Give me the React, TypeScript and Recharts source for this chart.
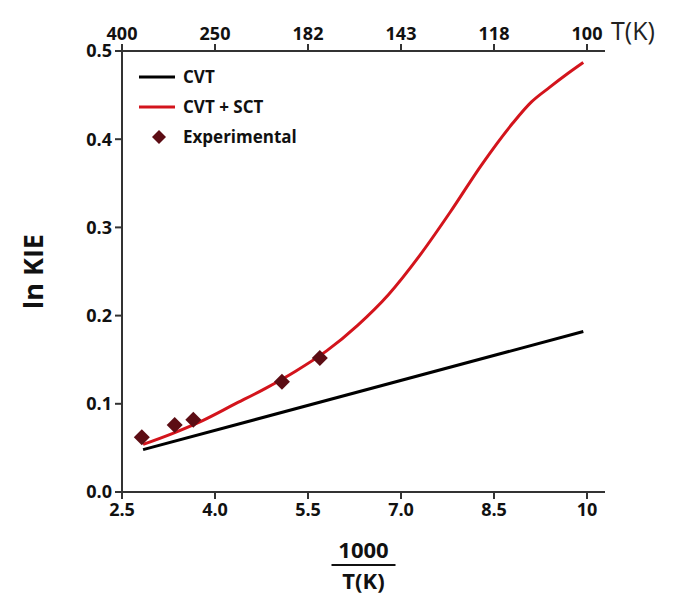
import {
  ComposedChart,
  Line,
  Scatter,
  XAxis,
  YAxis,
} from 'recharts'

// 1000/T (K^-1) against ln KIE
const cvtX = [2.84, 9.94]
const cvtY = [0.048, 0.182]

const sctX = [2.84, 3.3, 3.8, 4.3, 4.8, 5.3, 5.8, 6.3, 6.8, 7.3, 7.8, 8.3, 8.8, 9.1, 9.4, 9.7, 9.94]
const sctY = [0.054, 0.066, 0.081, 0.099, 0.117, 0.137, 0.16, 0.189, 0.224, 0.268, 0.318, 0.371, 0.418, 0.442, 0.459, 0.475, 0.487]

const expX = [2.82, 3.35, 3.65, 5.08, 5.69]
const expY = [0.062, 0.076, 0.082, 0.125, 0.152]

const xTicks = [2.5, 4.0, 5.5, 7.0, 8.5, 10]
const topTickLabels = ['400', '250', '182', '143', '118', '100']
const yTicks = [0, 0.1, 0.2, 0.3, 0.4, 0.5]

const cvtData = cvtX.map((x, i) => ({ x, y: cvtY[i] }))
const sctData = sctX.map((x, i) => ({ x, y: sctY[i] }))
const expData = expX.map((x, i) => ({ x, y: expY[i] }))

const FONT = '"Open Sans", "DejaVu Sans", sans-serif'
const AXIS = '#333'
const RED = '#d3141c'
const MAROON = '#5c0d14'

const tickStyle = { fontSize: 18, fontWeight: 700, fill: '#111', fontFamily: FONT }

const Diamond = (props: any) => {
  const { cx, cy } = props
  const r = 8
  return (
    <polygon
      points={`${cx},${cy - r} ${cx + r},${cy} ${cx},${cy + r} ${cx - r},${cy}`}
      fill={MAROON}
    />
  )
}

const legendItems = [
  { name: 'CVT', kind: 'line', color: '#000' },
  { name: 'CVT + SCT', kind: 'line', color: RED },
  { name: 'Experimental', kind: 'diamond', color: MAROON },
]

const LegendBox = () => (
  <div
    style={{
      position: 'absolute',
      left: 138,
      top: 62,
      fontFamily: FONT,
      fontWeight: 700,
      fontSize: 17,
      color: '#111',
      lineHeight: '30px',
    }}
  >
    {legendItems.map((it) => (
      <div key={it.name} style={{ display: 'flex', alignItems: 'center' }}>
        <svg width={45} height={16}>
          {it.kind === 'line' ? (
            <line x1={1} y1={8} x2={37} y2={8} stroke={it.color} strokeWidth={3} />
          ) : (
            <polygon points="21,1 28,8 21,15 14,8" fill={it.color} />
          )}
        </svg>
        {it.name}
      </div>
    ))}
  </div>
)

const YTitle = ({ viewBox }: any) => {
  const cy = viewBox.y + viewBox.height / 2
  return (
    <text
      x={32}
      y={cy}
      transform={`rotate(-90, 32, ${cy})`}
      textAnchor="middle"
      dominantBaseline="central"
      style={{ fontSize: 27, fontWeight: 700, fontFamily: FONT, fill: '#111' }}
    >
      ln KIE
    </text>
  )
}

// stacked fraction 1000 / T(K) under the bottom axis
const XTitle = ({ viewBox }: any) => {
  const cx = viewBox.x + viewBox.width / 2
  return (
    <g style={{ fontSize: 22, fontWeight: 700, fontFamily: FONT, fill: '#111' }}>
      <text x={cx} y={viewBox.y + 66} textAnchor="middle">1000</text>
      <line x1={cx - 32} x2={cx + 32} y1={viewBox.y + 73} y2={viewBox.y + 73} stroke="#111" strokeWidth={2} />
      <text x={cx} y={viewBox.y + 97} textAnchor="middle">T(K)</text>
    </g>
  )
}

const TopTitle = ({ viewBox }: any) => (
  <text
    x={viewBox.x + viewBox.width + 6}
    y={40}
    style={{ fontSize: 25, fontFamily: FONT, fill: '#222' }}
  >
    T(K)
  </text>
)

export default function App() {
  return (
    <div style={{ position: 'absolute', left: 0, top: 0, width: 677, height: 600, background: '#fff' }}>
      <ComposedChart
        width={677}
        height={600}
        margin={{ top: 0, right: 72, bottom: 0, left: 0 }}
        style={{ fontFamily: FONT }}
      >
        <XAxis
          dataKey="x"
          type="number"
          domain={[2.5, 10.29]}
          ticks={xTicks}
          tickFormatter={(v: number) => (v === 10 ? '10' : v.toFixed(1))}
          height={108}
          tick={tickStyle}
          tickSize={7}
          tickMargin={4}
          axisLine={{ stroke: AXIS, strokeWidth: 2 }}
          tickLine={{ stroke: AXIS, strokeWidth: 2 }}
          allowDataOverflow
          label={<XTitle />}
        />
        <XAxis
          xAxisId="top"
          orientation="top"
          dataKey="x"
          type="number"
          domain={[2.5, 10.29]}
          ticks={xTicks}
          tickFormatter={(_v: number, i: number) => topTickLabels[i]}
          height={51}
          tick={tickStyle}
          tickSize={7}
          tickMargin={4}
          axisLine={{ stroke: AXIS, strokeWidth: 2 }}
          tickLine={{ stroke: AXIS, strokeWidth: 2 }}
          allowDataOverflow
          label={<TopTitle />}
        />
        <YAxis
          type="number"
          domain={[0, 0.5]}
          ticks={yTicks}
          tickFormatter={(v: number) => v.toFixed(1)}
          width={122}
          tick={tickStyle}
          tickSize={7}
          tickMargin={3}
          axisLine={{ stroke: AXIS, strokeWidth: 2 }}
          tickLine={{ stroke: AXIS, strokeWidth: 2 }}
          label={<YTitle />}
        />
        <YAxis
          yAxisId="right"
          orientation="right"
          type="number"
          domain={[0, 0.5]}
          width={0}
          tick={false}
          tickLine={false}
          axisLine={{ stroke: AXIS, strokeWidth: 2 }}
        />
        <Line
          data={cvtData}
          dataKey="y"
          name="CVT"
          type="linear"
          stroke="#000"
          strokeWidth={3}
          dot={false}
          isAnimationActive={false}
        />
        <Line
          data={sctData}
          dataKey="y"
          name="CVT + SCT"
          type="monotone"
          stroke={RED}
          strokeWidth={3}
          dot={false}
          isAnimationActive={false}
        />
        <Scatter
          data={expData}
          dataKey="y"
          name="Experimental"
          fill={MAROON}
          shape={<Diamond />}
          isAnimationActive={false}
        />
      </ComposedChart>
      <LegendBox />
    </div>
  )
}
